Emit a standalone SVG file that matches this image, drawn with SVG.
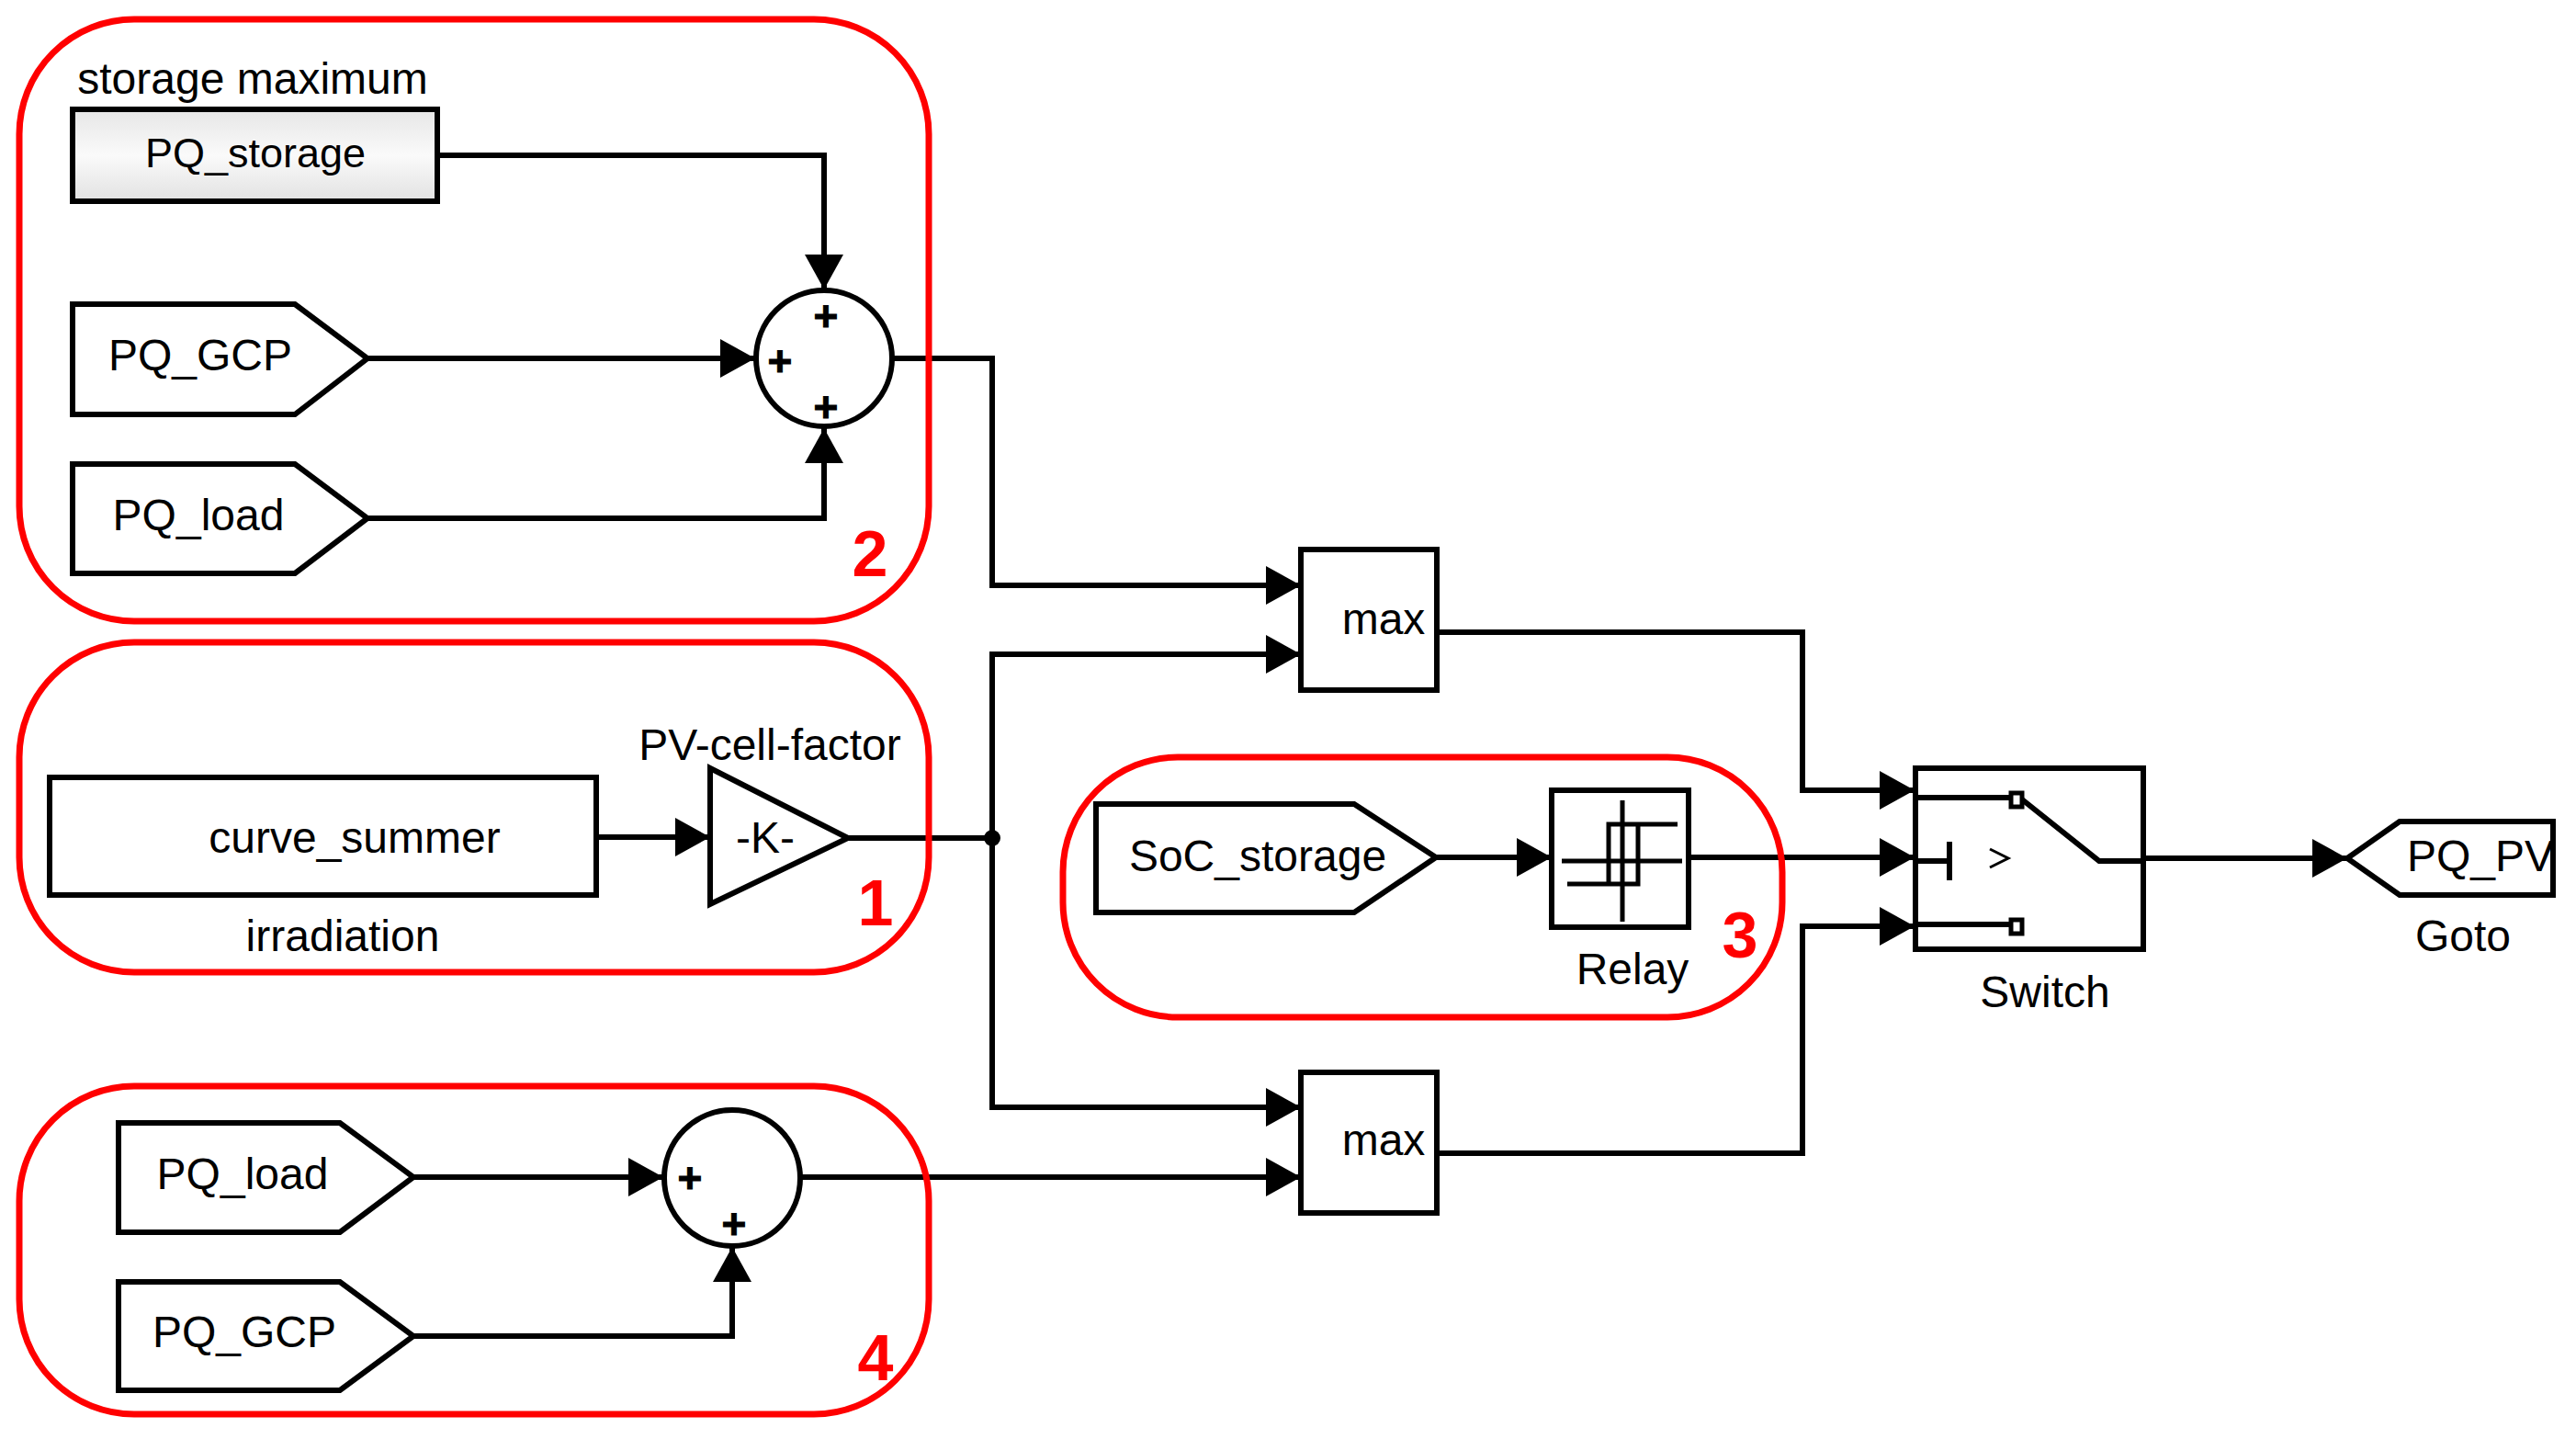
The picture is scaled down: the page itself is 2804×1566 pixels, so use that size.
<svg xmlns="http://www.w3.org/2000/svg" width="2804" height="1566" viewBox="0 0 2804 1566">
<style>
.b{fill:none;stroke:#000;stroke-width:6;stroke-linejoin:miter}
.i{fill:none;stroke:#000;stroke-width:5;stroke-linejoin:miter}
.c{fill:none;stroke:#000;stroke-width:6;stroke-linejoin:miter;marker-end:url(#ah)}
.r{fill:none;stroke:#f00;stroke-width:7}
.t{font-family:"Liberation Sans",Arial,sans-serif;font-size:48px;fill:#000;text-anchor:middle}
.p{font-family:"Liberation Sans",Arial,sans-serif;font-size:46px;font-weight:bold;fill:#000;stroke:#000;stroke-width:1;text-anchor:middle}
.d{font-family:"Liberation Sans",Arial,sans-serif;font-size:70px;font-weight:bold;fill:#f00;text-anchor:middle}
</style>
<defs>
<marker id="ah" markerUnits="userSpaceOnUse" markerWidth="38" markerHeight="42" viewBox="0 0 38 42" refX="38" refY="21" orient="auto"><path d="M0 0L38 21L0 42Z" fill="#000"/></marker>
<linearGradient id="g" x1="0" y1="0" x2="0" y2="1"><stop offset="0" stop-color="#e6e6e6"/><stop offset=".5" stop-color="#fafafa"/><stop offset="1" stop-color="#e2e2e2"/></linearGradient>
</defs>
<g id="connectors">
<path class="c" d="M476 169H897V315"/>
<path class="c" d="M400 390H822"/>
<path class="c" d="M400 564H897V466"/>
<path class="c" d="M972 390H1080V637H1416"/>
<path class="c" d="M923 912H1080V712H1416"/>
<path class="c" d="M1080 912V1205H1416"/>
<path class="c" d="M649 911H773"/>
<path class="c" d="M872 1281H1416"/>
<path class="c" d="M450 1281H722"/>
<path class="c" d="M450 1454H797V1357"/>
<path class="c" d="M1563 933H1689"/>
<path class="c" d="M1838 933H2084"/>
<path class="c" d="M1564 688H1962V860H2084"/>
<path class="c" d="M1564 1255H1962V1008H2084"/>
<path class="c" d="M2334 934H2555"/>
<circle cx="1080" cy="912" r="9" fill="#000"/>
</g>
<g id="region-2"><rect class="r" x="21" y="21" width="990" height="655" rx="125"/><text class="d" x="947" y="627">2</text></g>
<g id="region-1"><rect class="r" x="21" y="699" width="990" height="359" rx="125"/><text class="d" x="953" y="1007">1</text></g>
<g id="region-3"><rect class="r" x="1157" y="824" width="783" height="283" rx="125"/><text class="d" x="1894" y="1042">3</text></g>
<g id="region-4"><rect class="r" x="21" y="1182" width="990" height="357" rx="125"/><text class="d" x="953" y="1502">4</text></g>
<g id="storage-maximum"><rect x="79" y="119" width="397" height="100" fill="url(#g)" stroke="#000" stroke-width="6"/><text class="t" x="278" y="182" style="font-size:45px">PQ_storage</text><text class="t" x="275" y="102">storage maximum</text></g>
<g id="pq-gcp-1"><path class="b" d="M79 331H321L400 390L321 451H79Z"/><text class="t" x="218" y="403">PQ_GCP</text></g>
<g id="pq-load-1"><path class="b" d="M79 505H321L400 564L321 624H79Z"/><text class="t" x="216" y="577">PQ_load</text></g>
<g id="sum-1"><circle class="b" cx="897" cy="390" r="74"/><text class="p" x="899" y="360">+</text><text class="p" x="849" y="409">+</text><text class="p" x="899" y="459">+</text></g>
<g id="max-1"><rect class="b" x="1416" y="598" width="148" height="153"/><text class="t" x="1506" y="690">max</text></g>
<g id="irradiation"><rect class="b" x="54" y="846" width="595" height="128"/><text class="t" x="386" y="928">curve_summer</text><text class="t" x="373" y="1035">irradiation</text></g>
<g id="gain"><path class="b" d="M773 836L923 912L773 984Z"/><text class="t" x="833" y="928">-K-</text><text class="t" x="838" y="827">PV-cell-factor</text></g>
<g id="soc-storage"><path class="b" d="M1193 875H1474L1563 933L1474 993H1193Z"/><text class="t" x="1369" y="948">SoC_storage</text></g>
<g id="relay"><rect class="b" x="1689" y="860" width="149" height="149"/><path class="i" d="M1766 871V1003M1700 937H1831M1826 897H1751V962M1706 962H1783V897"/><text class="t" x="1777" y="1071">Relay</text></g>
<g id="switch"><rect class="b" x="2085" y="836" width="248" height="197"/><path class="b" d="M2085 868H2187M2085 1006H2187M2085 937H2122M2122 916V958M2201 870L2285 937H2335"/><rect x="2189" y="863" width="12" height="15" fill="#fff" stroke="#000" stroke-width="5"/><rect x="2189" y="1001" width="12" height="15" fill="#fff" stroke="#000" stroke-width="5"/><path d="M2166 924L2186 934L2166 944" fill="none" stroke="#000" stroke-width="3"/><text class="t" x="2226" y="1096">Switch</text></g>
<g id="max-2"><rect class="b" x="1416" y="1167" width="148" height="153"/><text class="t" x="1506" y="1257">max</text></g>
<g id="pq-load-2"><path class="b" d="M129 1222H370L450 1281L370 1341H129Z"/><text class="t" x="264" y="1294">PQ_load</text></g>
<g id="pq-gcp-2"><path class="b" d="M129 1395H370L450 1454L370 1513H129Z"/><text class="t" x="266" y="1466">PQ_GCP</text></g>
<g id="sum-2"><circle class="b" cx="797" cy="1282" r="74"/><text class="p" x="751" y="1298">+</text><text class="p" x="799" y="1348">+</text></g>
<g id="goto"><path class="b" d="M2555 934L2612 894H2779V974H2612Z"/><text class="t" x="2700" y="948">PQ_PV</text><text class="t" x="2681" y="1035">Goto</text></g>
</svg>
